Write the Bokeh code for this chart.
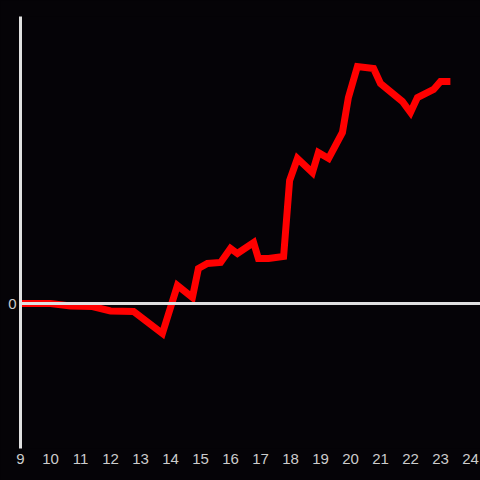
from bokeh.plotting import figure
from bokeh.models import Range1d, Span, FixedTicker, GlobalInlineStyleSheet
from bokeh.embed import file_html
from bokeh.resources import INLINE

# Data (hour of day vs. change)
hours = [9.0, 10.0, 10.67, 11.4, 12.0, 12.77, 13.73, 14.23, 14.73, 14.93, 15.23, 15.67,
         16.0, 16.23, 16.77, 16.93, 17.27, 17.77, 17.97, 18.23, 18.73, 18.93, 19.27,
         19.73, 19.93, 20.23, 20.77, 21.0, 21.73, 22.0, 22.23, 22.77, 23.0, 23.33]
change = [0.0, 0.0, -0.25, -0.3, -0.75, -0.8, -3.0, 1.8, 0.6, 3.5, 4.0, 4.1,
          5.5, 5.0, 6.1, 4.5, 4.5, 4.7, 12.3, 14.5, 13.1, 15.1, 14.5,
          17.1, 20.6, 23.7, 23.5, 22.0, 20.2, 19.1, 20.6, 21.4, 22.2, 22.2]
x_ticks = list(range(9, 25))
y_ticks = [0]

BG = "#050307"
AXIS = "#e0e0e0"
LABEL = "#cccccc"

page_css = GlobalInlineStyleSheet(css="html, body { margin: 0; padding: 0; background: #050307; overflow: hidden; }")

p = figure(width=480, height=480, output_backend="svg", toolbar_location=None,
           x_range=Range1d(9, 24.333), y_range=Range1d(-14.5, 28.7),
           min_border_left=20, min_border_right=0, min_border_top=16, min_border_bottom=32,
           stylesheets=[page_css])
p.background_fill_color = BG
p.border_fill_color = BG
p.outline_line_color = None
p.grid.visible = False

p.xaxis.ticker = FixedTicker(ticks=x_ticks)
p.xaxis.axis_line_color = None
p.xaxis.major_tick_line_color = None
p.xaxis.minor_tick_line_color = None
p.xaxis.major_tick_out = 0
p.xaxis.major_label_standoff = 5
p.xaxis.major_label_text_color = LABEL
p.xaxis.major_label_text_font = "Liberation Sans"
p.xaxis.major_label_text_font_size = "15px"

p.yaxis.ticker = FixedTicker(ticks=y_ticks)
p.yaxis.axis_line_color = AXIS
p.yaxis.axis_line_width = 3
p.yaxis.major_tick_line_color = None
p.yaxis.minor_tick_line_color = None
p.yaxis.major_tick_out = 0
p.yaxis.major_label_standoff = 4
p.yaxis.major_label_text_color = LABEL
p.yaxis.major_label_text_font = "Liberation Sans"
p.yaxis.major_label_text_font_size = "15px"

p.add_layout(Span(location=0, dimension="width", line_color=AXIS, line_width=3))

p.line(hours, change, line_color="#ff0000", line_width=7, line_join="miter")

open("out.html", "w").write(file_html(p, INLINE))
